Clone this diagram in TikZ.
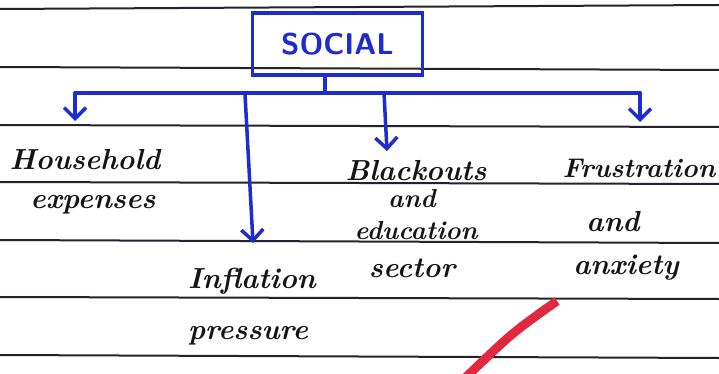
\documentclass[tikz,border=0pt]{standalone}
\usetikzlibrary{arrows.meta}
\definecolor{pen}{HTML}{1E2BD0}
\definecolor{ink}{HTML}{151515}
\definecolor{rulecol}{HTML}{22222C}
\definecolor{hl}{HTML}{E2283E}
\begin{document}
\begin{tikzpicture}[x=1pt,y=-1pt,
 conn/.style={pen, line width=3.5pt, line cap=round, line join=round},
 arr/.style={conn, -{Straight Barb[length=11pt,width=22pt,line width=3.5pt]}},
 hand/.style={ink, font=\fontsize{29}{29}\selectfont\bfseries\itshape, inner sep=0pt, anchor=center},
 titlebox/.style={draw=pen, line width=3.5pt, minimum width=170pt, minimum height=62pt, inner sep=0pt, font=\fontsize{30}{30}\selectfont\sffamily\bfseries, text=pen},
 ruled/.style={rulecol, line width=2pt}]
\fill[white] (0,0) rectangle (719,374);
\useasboundingbox (0,0) rectangle (719,374);
% ruled paper
\draw[ruled] (0,9) -- (719,5);
\draw[ruled] (0,67) -- (719,70);
\draw[ruled] (0,125) -- (719,127);
\draw[ruled] (0,182) -- (719,184);
\draw[ruled] (0,240) -- (719,243);
\draw[ruled] (0,297) -- (719,299);
\draw[ruled] (0,355) -- (719,358);
% title
\node[titlebox] (social) at (337.5,44) {SOCIAL};
% junctions
\coordinate (j) at (325,93);
\coordinate (bl) at (75,93);
\coordinate (br) at (640,93);
\coordinate (bi) at (245,94);
\coordinate (bb) at (384,93);
\coordinate (t1) at (75,121);
\coordinate (t2) at (253,243);
\coordinate (t3) at (387,151);
\coordinate (t4) at (640,122);
% labels
\node[hand] (hh1) at (85,160) {Household};
\node[hand] (hh2) at (93,205) {expenses};
\node[hand] (in1) at (252,281) {Inflation};
\node[hand] (in2) at (248,336) {pressure};
\node[hand] (bo1) at (416,171) {Blackouts};
\node[hand, font=\fontsize{26}{26}\selectfont\bfseries\itshape] (bo2) at (412,199) {and};
\node[hand, font=\fontsize{26}{26}\selectfont\bfseries\itshape] (bo3) at (416,231) {education};
\node[hand] (bo4) at (412,268) {sector};
\node[hand, font=\fontsize{27}{27}\selectfont\bfseries\itshape] (fr1) at (639,168) {Frustration};
\node[hand] (fr2) at (613,222) {and};
\node[hand] (fr3) at (626,268) {anxiety};
% connectors
\draw[conn] (social.south -| j) -- (j);
\draw[conn] (bl) -- (br);
\draw[arr] (bl) -- (t1);
\draw[arr] (br) -- (t4);
\draw[arr] (bi) -- (t2);
\draw[arr] (bb) -- (t3);
% red highlighter stroke
\draw[hl, line width=9pt, line join=round] (557,301) -- (540,313) .. controls (510,335) .. (463,380);
\end{tikzpicture}
\end{document}
